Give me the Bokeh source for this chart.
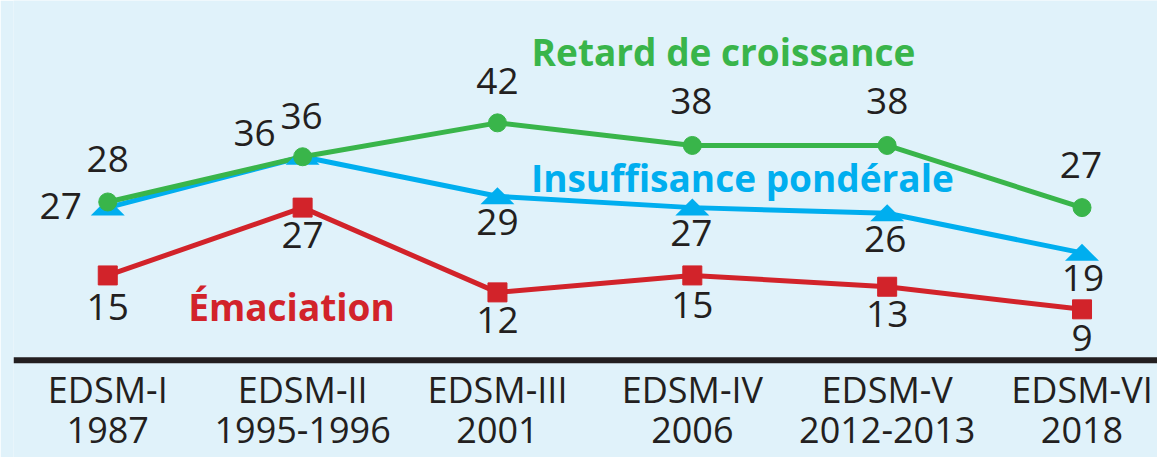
from bokeh.plotting import figure
from bokeh.models import ColumnDataSource, Label, Span
from bokeh.core.properties import value
from bokeh.embed import file_html
from bokeh.resources import INLINE

# ---- data ----
surveys = ["EDSM-I", "EDSM-II", "EDSM-III", "EDSM-IV", "EDSM-V", "EDSM-VI"]
years = ["1987", "1995-1996", "2001", "2006", "2012-2013", "2018"]
retard = [28, 36, 42, 38, 38, 27]
insuffisance = [27, 36, 29, 27, 26, 19]
emaciation = [15, 27, 12, 15, 13, 9]
series_names = ["Retard de croissance", "Insuffisance pondérale", "Émaciation"]

# ---- style / layout ----
BG = "#e0f2fa"
GREEN = "#39b54a"
BLUE = "#00aeef"
RED = "#d2232a"
INK = "#231f20"
FONT = "Open Sans"

W, H = 1157, 457
SX, SY = W / 1165, H / 465           # reference -> figure scale
PX_X = 196.2 * SX                    # pixels per category step
PX_Y = 5.75 * SY                     # pixels per unit
X0 = 108 * SX                        # pixel of first category
Y0 = 366 * SY                        # pixel of value 0
LEFT = 13                            # frame starts here (baseline start)

x = list(range(len(surveys)))

def dx(px):  # reference pixel -> data x
    return (px * SX - X0) / PX_X

def dy(py):  # reference pixel -> data y
    return (Y0 - py * SY) / PX_Y

p = figure(width=W, height=H,
           x_range=((LEFT - X0) / PX_X, (W - X0) / PX_X),
           y_range=(-(H - Y0) / PX_Y, Y0 / PX_Y),
           x_axis_location=None, y_axis_location=None,
           min_border_left=LEFT, min_border_right=0, min_border_top=0,
           min_border_bottom=0,
           background_fill_color=BG, border_fill_color=BG,
           outline_line_color=None, toolbar_location=None,
           output_backend="svg")
p.grid.visible = False

# baseline (x axis line)
p.add_layout(Span(location=0, dimension="width", line_width=6, line_color=INK))

# category labels under the baseline
src_cat = ColumnDataSource(dict(x=x, y=[0] * len(x), s=surveys, yr=years))
for col, off in (("s", 29), ("yr", 70)):
    p.text(x="x", y="y", text=col, y_offset=off, source=src_cat,
           text_font=value(FONT), text_font_size="36px", text_color=INK,
           text_align="center", text_baseline="middle")

# lines
p.line(x, emaciation, line_width=5, color=RED)
p.line(x, insuffisance, line_width=5, color=BLUE)
p.line(x, retard, line_width=5, color=GREEN)

# markers
p.scatter(x, emaciation, marker="square", size=19, color=RED)
hw = 17 / PX_X
up = 9 / PX_Y
dn = 8 / PX_Y
tri_xs = [[xi - hw, xi + hw, xi] for xi in x]
tri_ys = [[v - dn, v - dn, v + up] for v in insuffisance]
p.patches(tri_xs, tri_ys, color=BLUE, line_width=0)
p.scatter(x, retard, marker="circle", size=18, color=GREEN)

# value labels (offsets in screen px, positive = down)
def add_labels(vals, dxs, dys):
    src = ColumnDataSource(dict(x=x, y=vals, t=[str(v) for v in vals],
                                dx=dxs, dy=[d - 2 for d in dys]))
    p.text(x="x", y="y", text="t", x_offset="dx", y_offset="dy", source=src,
           text_font=value(FONT), text_font_size="37px", text_color=INK,
           text_align="center", text_baseline="middle")

add_labels(retard, [0, -1, 0, -1, 0, -1], [-41, -39, -40, -42, -42, -41])
add_labels(insuffisance, [-47, -48, 0, -1, -2, 1], [0, -22, 28, 27, 28, 27])
add_labels(emaciation, [0, 0, 0, 0, 0, 0], [34, 29, 30, 32, 29, 31])

# series names
for name, cx, cy, col in zip(series_names, [728, 747, 293], [50, 178, 309],
                             [GREEN, BLUE, RED]):
    p.add_layout(Label(x=dx(cx), y=dy(cy + 2), text=name, text_font=FONT,
                       text_font_style="bold", text_font_size="37px",
                       text_color=col, text_align="center",
                       text_baseline="middle"))

open("out.html", "w").write(file_html(p, INLINE))
